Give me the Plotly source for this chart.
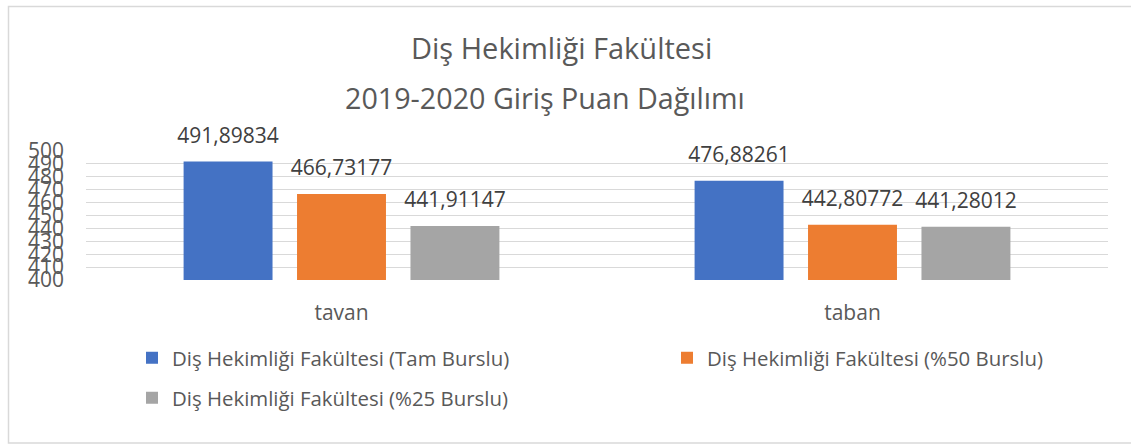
import plotly.graph_objects as go

categories = ["tavan", "taban"]
series_names = [
    "Diş Hekimliği Fakültesi (Tam Burslu)",
    "Diş Hekimliği Fakültesi (%50 Burslu)",
    "Diş Hekimliği Fakültesi (%25 Burslu)",
]
tam_burslu = [491.89834, 476.88261]
yuzde50_burslu = [466.73177, 442.80772]
yuzde25_burslu = [441.91147, 441.28012]
y_ticks = list(range(400, 501, 10))
title_line1 = "Diş Hekimliği Fakültesi"
title_line2 = "2019-2020 Giriş Puan Dağılımı"

colors = ["#4472C4", "#ED7D31", "#A5A5A5"]
FONT = "Open Sans"

W, H = 1131, 444
L, R, T, B = 86, 1108, 151, 280  # plot area pixel box
pw, ph = R - L, B - T
BARGAP = 0.334

def px_x(x):
    return (x - L) / pw

def px_y(y):
    return (B - y) / ph

fig = go.Figure()
all_vals = [tam_burslu, yuzde50_burslu, yuzde25_burslu]
legends = ["legend", "legend2", "legend3"]
for name, vals, c, lg in zip(series_names, all_vals, colors, legends):
    fig.add_trace(go.Bar(
        name=name, x=categories, y=vals,
        marker=dict(color=c, line=dict(width=0)),
        legend=lg,
    ))
# data labels, grouped to sit over their bars
for name, vals in zip(series_names, all_vals):
    fig.add_trace(go.Scatter(
        name=name, x=categories, y=vals, mode="markers+text",
        marker=dict(size=20, opacity=0),
        texttemplate="%{y:.5f}", textposition="top center",
        textfont=dict(family=FONT, size=21, color="#404040"),
        cliponaxis=False, showlegend=False, hoverinfo="skip",
    ))

legend_common = dict(orientation="h", xanchor="left", yanchor="middle",
                     font=dict(family=FONT, size=20.4, color="#595959"),
                     bgcolor="rgba(0,0,0,0)")

fig.update_layout(
    width=W, height=H,
    margin=dict(l=L, r=W - R, t=T, b=H - B, pad=0, autoexpand=False),
    paper_bgcolor="white", plot_bgcolor="white",
    separators=",.",
    barmode="group", bargap=BARGAP, bargroupgap=0.216,
    scattermode="group", scattergap=BARGAP,
    font=dict(family=FONT, color="#595959"),
    showlegend=True,
    xaxis=dict(showgrid=False, showline=False, ticks="",
               ticklabelstandoff=18,
               tickfont=dict(family=FONT, size=21, color="#595959")),
    yaxis=dict(range=[400, 500], tickvals=y_ticks, showgrid=True,
               gridcolor="#D9D9D9", gridwidth=1, zeroline=False,
               showline=False, ticks="", ticklabelstandoff=21,
               tickfont=dict(family=FONT, size=21, color="#595959")),
    legend=dict(x=px_x(132), y=px_y(358), **legend_common),
    legend2=dict(x=px_x(667), y=px_y(358), **legend_common),
    legend3=dict(x=px_x(132), y=px_y(398), **legend_common),
    annotations=[
        dict(text=title_line1, x=px_x(561), xref="paper", y=px_y(48),
             yref="paper", xanchor="center", yanchor="middle",
             showarrow=False,
             font=dict(family=FONT, size=29, color="#595959")),
        dict(text=title_line2, x=px_x(545), xref="paper", y=px_y(97),
             yref="paper", xanchor="center", yanchor="middle",
             showarrow=False,
             font=dict(family=FONT, size=28.7, color="#595959")),
    ],
    shapes=[dict(type="rect", xref="paper", yref="paper",
                 x0=px_x(8.5), x1=px_x(1140), y0=px_y(443), y1=px_y(6.5),
                 line=dict(color="#D9D9D9", width=1.5), layer="below")],
)

fig.write_html("out.html", config={"displayModeBar": False},
               post_script="document.body.style.margin='0px';")
